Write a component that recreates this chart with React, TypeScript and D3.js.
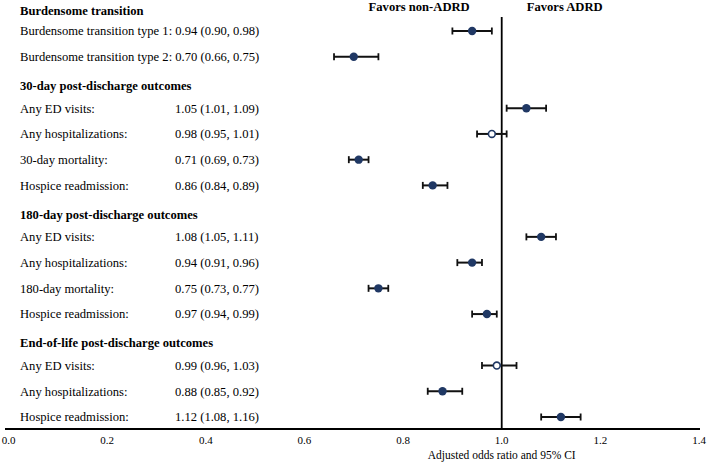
import React from "react";
import * as d3 from "d3";

// ---- data ----
const sectionTitles = [
  "Burdensome transition",
  "30-day post-discharge outcomes",
  "180-day post-discharge outcomes",
  "End-of-life post-discharge outcomes",
];
const sectionRowIndex = [0, 3, 8, 13];

const outcomeLabels = [
  "Burdensome transition type 1:",
  "Burdensome transition type 2:",
  "Any ED visits:",
  "Any hospitalizations:",
  "30-day mortality:",
  "Hospice readmission:",
  "Any ED visits:",
  "Any hospitalizations:",
  "180-day mortality:",
  "Hospice readmission:",
  "Any ED visits:",
  "Any hospitalizations:",
  "Hospice readmission:",
];
const outcomeRowIndex = [1, 2, 4, 5, 6, 7, 9, 10, 11, 12, 14, 15, 16];
const inlineValue = [true, true, false, false, false, false, false, false, false, false, false, false, false];
const oddsRatio = [0.94, 0.7, 1.05, 0.98, 0.71, 0.86, 1.08, 0.94, 0.75, 0.97, 0.99, 0.88, 1.12];
const ciLow = [0.9, 0.66, 1.01, 0.95, 0.69, 0.84, 1.05, 0.91, 0.73, 0.94, 0.96, 0.85, 1.08];
const ciHigh = [0.98, 0.75, 1.09, 1.01, 0.73, 0.89, 1.11, 0.96, 0.77, 0.99, 1.03, 0.92, 1.16];

const xTicks = [0, 0.2, 0.4, 0.6, 0.8, 1.0, 1.2, 1.4];
const axisTitle = "Adjusted odds ratio and 95% CI";
const favorLeft = "Favors non-ADRD";
const favorRight = "Favors ADRD";

// ---- layout ----
const W = 708;
const H = 463;
const FONT = "'Liberation Serif', 'Times New Roman', serif";
const NAVY = "#203864";

export default function App() {
  const x = d3.scaleLinear().domain([0, 1.4]).range([8.5, 699]);
  const y = d3.scaleLinear().domain([1, 16]).range([31, 417]);
  const fmt = d3.format(".2f");
  const axisY = 429;
  const refX = x(1);

  return (
    <svg
      width={W}
      height={H}
      style={{ position: "absolute", left: 0, top: 0, background: "#fff" }}
      fontFamily={FONT}
    >
      <rect width={W} height={H} fill="#fff" />
      {/* favors labels */}
      <text x={refX - 32} y={11} textAnchor="end" fontWeight="bold" fontSize={12.6} fill="#000">
        {favorLeft}
      </text>
      <text x={refX + 25} y={11} textAnchor="start" fontWeight="bold" fontSize={12.6} fill="#000">
        {favorRight}
      </text>

      {/* section headers */}
      {sectionTitles.map((t, i) => (
        <text
          key={"s" + i}
          x={20}
          y={y(sectionRowIndex[i]) + (i === 0 ? 5 : 3)}
          dy="0.35em"
          fontWeight="bold"
          fontSize={12.6}
          fill="#000"
        >
          {t}
        </text>
      ))}

      {/* labels */}
      {outcomeLabels.map((l, i) => {
        const val = `${fmt(oddsRatio[i])} (${fmt(ciLow[i])}, ${fmt(ciHigh[i])})`;
        const yy = y(outcomeRowIndex[i]);
        return inlineValue[i] ? (
          <text key={"l" + i} x={20} y={yy} dy="0.35em" fontSize={12.6} fill="#000">
            {l + " " + val}
          </text>
        ) : (
          <g key={"l" + i}>
            <text x={20} y={yy} dy="0.35em" fontSize={12.6} fill="#000">
              {l}
            </text>
            <text x={175} y={yy} dy="0.35em" fontSize={12.6} fill="#000">
              {val}
            </text>
          </g>
        );
      })}

      {/* reference line */}
      <line x1={refX} x2={refX} y1={17} y2={axisY} stroke="#000" strokeWidth={1.8} />

      {/* error bars and markers */}
      {oddsRatio.map((v, i) => {
        const yy = y(outcomeRowIndex[i]);
        const open = ciLow[i] <= 1 && ciHigh[i] >= 1;
        return (
          <g key={"m" + i}>
            <line x1={x(ciLow[i])} x2={x(ciHigh[i])} y1={yy} y2={yy} stroke="#111" strokeWidth={2} />
            <line x1={x(ciLow[i])} x2={x(ciLow[i])} y1={yy - 3.5} y2={yy + 3.5} stroke="#111" strokeWidth={1.8} />
            <line x1={x(ciHigh[i])} x2={x(ciHigh[i])} y1={yy - 3.5} y2={yy + 3.5} stroke="#111" strokeWidth={1.8} />
            {open ? (
              <circle cx={x(v)} cy={yy} r={3.4} fill="#fff" stroke={NAVY} strokeWidth={1.6} />
            ) : (
              <circle cx={x(v)} cy={yy} r={4.2} fill={NAVY} />
            )}
          </g>
        );
      })}

      {/* x axis */}
      <line x1={5} x2={700} y1={axisY} y2={axisY} stroke="#000" strokeWidth={2} />
      {xTicks.map((t) => (
        <text key={"t" + t} x={x(t)} y={444} textAnchor="middle" fontSize={11} fill="#000">
          {d3.format(".1f")(t)}
        </text>
      ))}
      <text x={refX} y={459} textAnchor="middle" fontSize={11.5} fill="#000">
        {axisTitle}
      </text>
    </svg>
  );
}
